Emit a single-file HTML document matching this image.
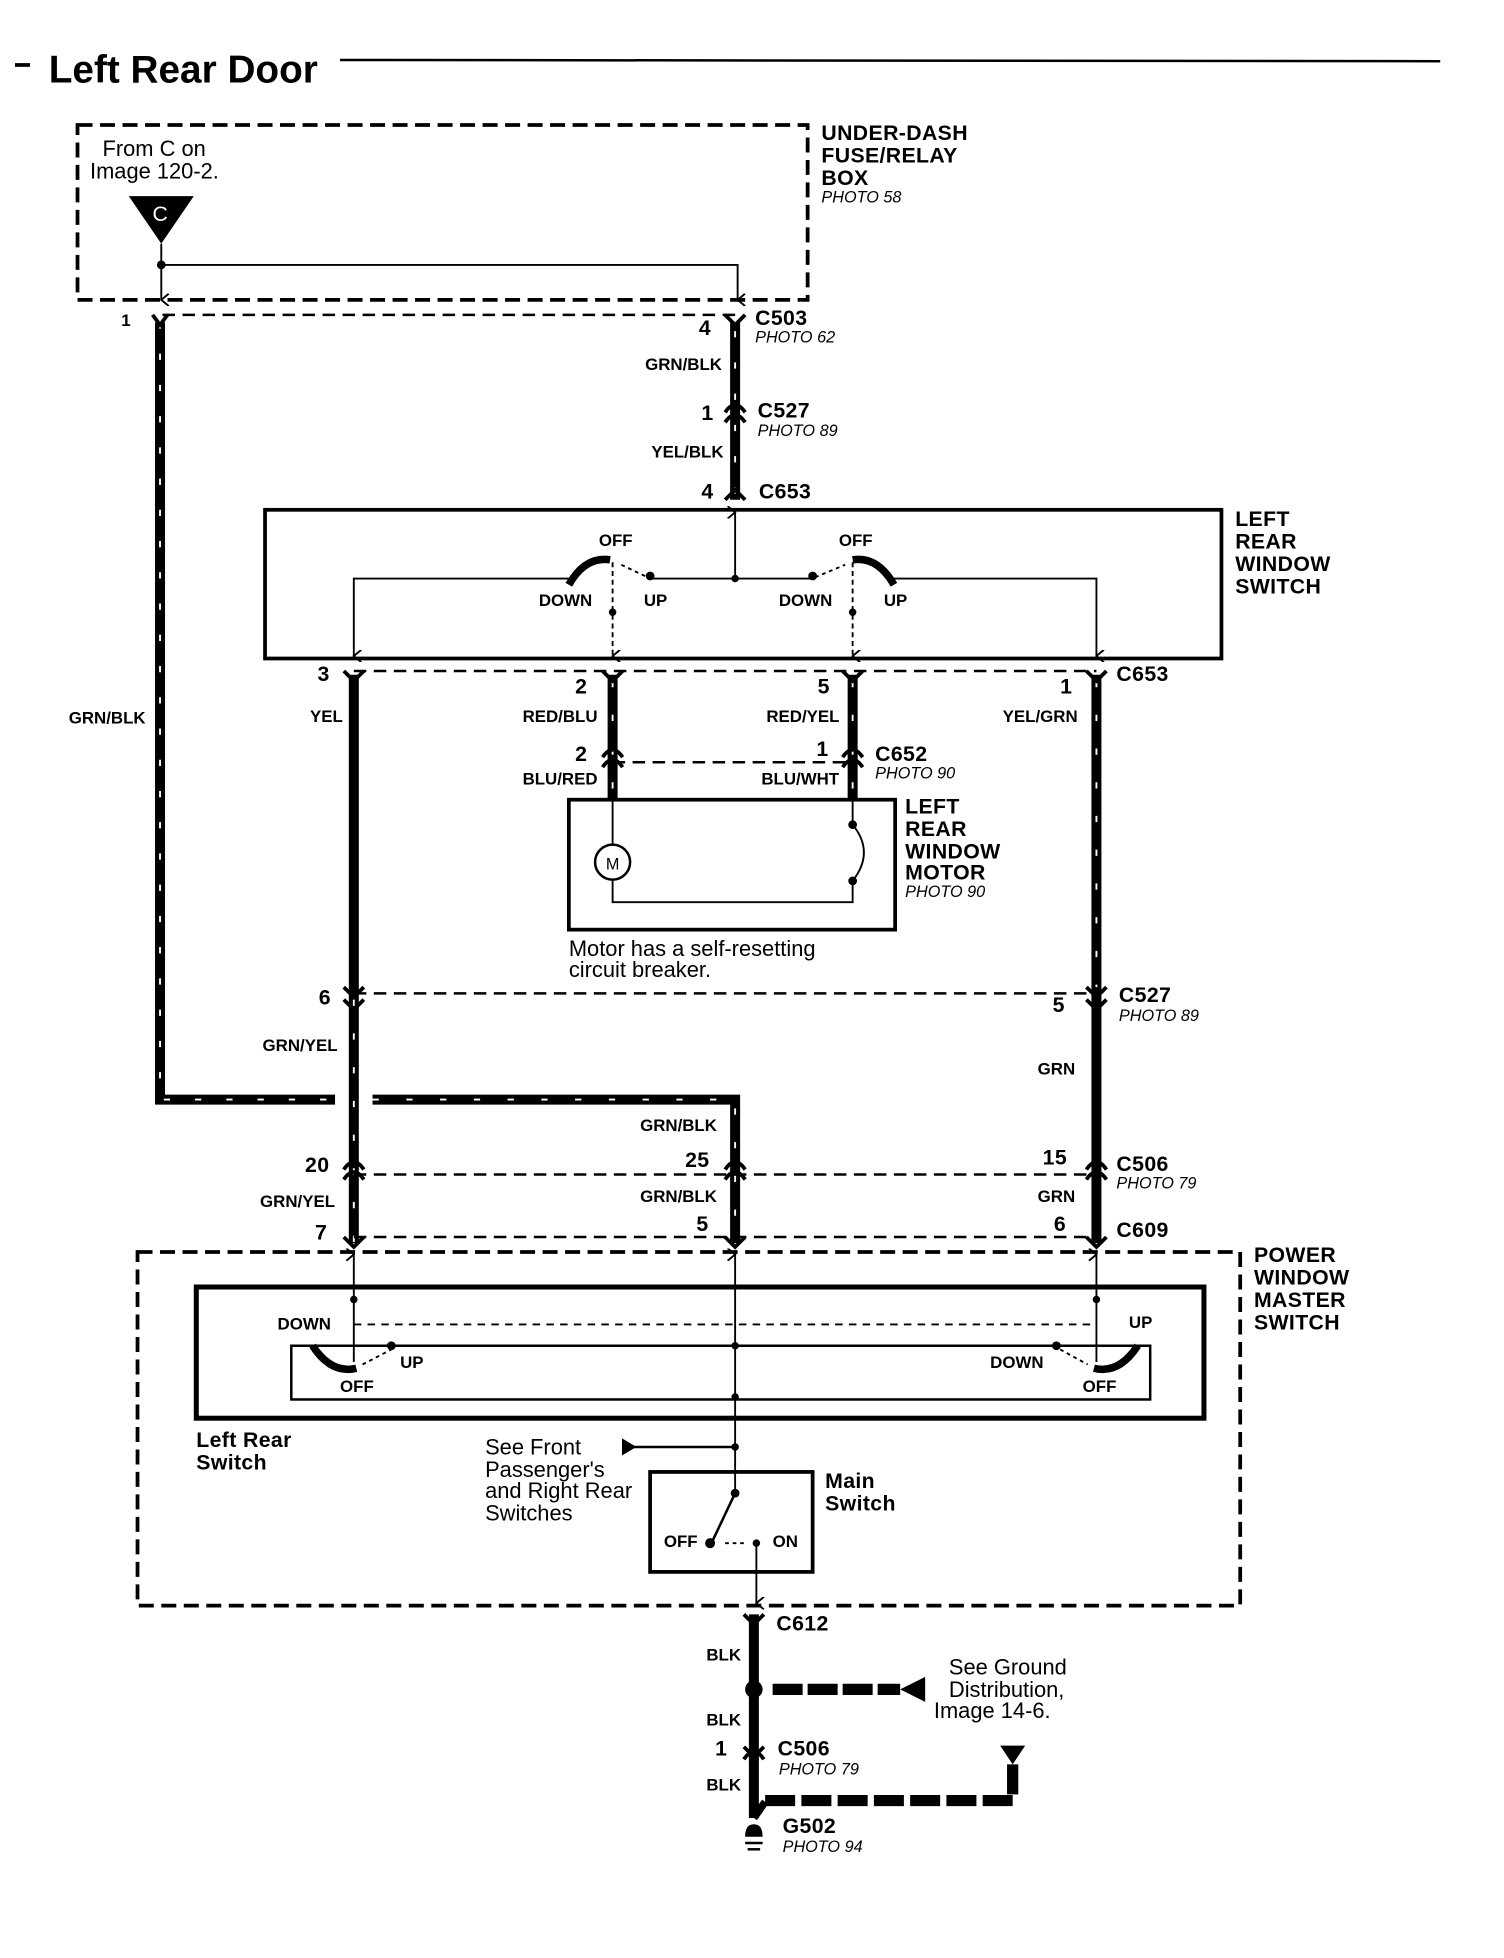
<!DOCTYPE html>
<html><head><meta charset="utf-8"><style>
html,body{margin:0;padding:0;background:#fff}
svg{display:block}
text{font-family:"Liberation Sans Narrow","Liberation Sans",sans-serif;fill:#000}
.b{font-weight:bold}
.s{font-size:13.5px;font-weight:bold}
.m{font-size:17px;font-weight:bold;letter-spacing:0.3px}
.i{font-size:13px;font-style:italic}
.n{font-size:17.5px}
</style></head><body>
<svg width="1504" height="1958" viewBox="0 0 1203 1567" preserveAspectRatio="none" xmlns="http://www.w3.org/2000/svg">
<defs>
<marker id="a" markerWidth="10" markerHeight="10" refX="5" refY="9" orient="auto-start-reverse" markerUnits="userSpaceOnUse">
<path d="M0,3 L5,9 L10,3" fill="none" stroke="#000" stroke-width="1.5"/></marker>
</defs>
<g fill="none" stroke="#000">
<line x1="12" y1="52" x2="24" y2="52" stroke-width="3"/>
<line x1="272" y1="48" x2="1152" y2="49" stroke-width="2"/>
<rect x="62" y="100" width="584" height="140" stroke-width="3" stroke-dasharray="12 6"/>
<polyline points="129,212 590,212 590,240" stroke-width="1.5" marker-end="url(#a)"/>
<line x1="129" y1="195" x2="129" y2="240" stroke-width="1.5" marker-end="url(#a)"/>
<line x1="130" y1="252" x2="588" y2="252" stroke-width="2" stroke-dasharray="10 6"/>
<polyline points="128,258 128,880 268,880" stroke-width="8"/>
<polyline points="128,258 128,880 268,880" stroke="#fff" stroke-width="1.5" stroke-dasharray="5 20"/>
<line x1="588" y1="258" x2="588" y2="400" stroke-width="8"/>
<line x1="588" y1="265" x2="588" y2="400" stroke="#fff" stroke-width="1.5" stroke-dasharray="5 20"/>
<path d="M580,252 L588,260 L596,252 M580,330 Q588,318 596,330 M580,338 Q588,326 596,338 M580,400 L588,392 L596,400" stroke-width="3"/>
<path d="M122,252 L128,260 L134,252" stroke-width="3"/>
<rect x="212" y="408" width="765" height="119" stroke-width="3"/>
<line x1="588" y1="463" x2="588" y2="410" stroke-width="1.5" marker-end="url(#a)"/>
<polyline points="455,463 283,463 283,525" stroke-width="1.5" marker-end="url(#a)"/>
<polyline points="715,463 877,463 877,525" stroke-width="1.5" marker-end="url(#a)"/>
<line x1="520" y1="463" x2="650" y2="463" stroke-width="1.5"/>
<path d="M455,468 Q468,445 488,448" stroke-width="6"/>
<path d="M715,468 Q702,445 682,448" stroke-width="6"/>
<line x1="490" y1="450" x2="490" y2="525" stroke-width="1.5" stroke-dasharray="4 3" marker-end="url(#a)"/>
<line x1="682" y1="450" x2="682" y2="525" stroke-width="1.5" stroke-dasharray="4 3" marker-end="url(#a)"/>
<line x1="497" y1="452" x2="518" y2="462" stroke-width="1.5" stroke-dasharray="3 3"/>
<line x1="652" y1="462" x2="676" y2="452" stroke-width="1.5" stroke-dasharray="3 3"/>
<line x1="283" y1="537" x2="877" y2="537" stroke-width="2" stroke-dasharray="10 6"/>
<line x1="283" y1="540" x2="283" y2="995" stroke-width="8"/>
<line x1="283" y1="800" x2="283" y2="995" stroke="#fff" stroke-width="1.5" stroke-dasharray="5 22"/>
<line x1="877" y1="540" x2="877" y2="995" stroke-width="8"/>
<line x1="877" y1="545" x2="877" y2="790" stroke="#fff" stroke-width="1.5" stroke-dasharray="5 22"/>
<line x1="490" y1="540" x2="490" y2="640" stroke-width="8"/>
<line x1="490" y1="545" x2="490" y2="640" stroke="#fff" stroke-width="1.5" stroke-dasharray="5 22"/>
<line x1="682" y1="540" x2="682" y2="640" stroke-width="8"/>
<line x1="682" y1="545" x2="682" y2="640" stroke="#fff" stroke-width="1.5" stroke-dasharray="5 22"/>
<path d="M275,537 L283,545 L291,537 M482,537 L490,545 L498,537 M674,537 L682,545 L690,537 M869,537 L877,545 L885,537" stroke-width="3"/>
<line x1="490" y1="610" x2="682" y2="610" stroke-width="2" stroke-dasharray="10 6"/>
<path d="M482,606 Q490,594 498,606 M482,614 Q490,602 498,614 M674,606 Q682,594 690,606 M674,614 Q682,602 690,614" stroke-width="3"/>
<rect x="455" y="640" width="261" height="104" stroke-width="3"/>
<polyline points="490,640 490,676" stroke-width="1.5"/>
<circle cx="490" cy="690" r="14" stroke-width="2"/>
<polyline points="490,704 490,722 682,722 682,705" stroke-width="1.5"/>
<line x1="682" y1="640" x2="682" y2="660" stroke-width="1.5"/>
<path d="M682,660 Q700,682 682,705" stroke-width="1.5"/>
<line x1="283" y1="795" x2="877" y2="795" stroke-width="2" stroke-dasharray="10 6"/>
<path d="M275,790 L283,798 L291,790 M275,800 L283,808 L291,800 M869,790 L877,798 L885,790 M869,800 L877,808 L885,800" stroke-width="3"/>
<polyline points="298,880 588,880 588,995" stroke-width="8"/>
<polyline points="298,880 588,880 588,995" stroke="#fff" stroke-width="1.5" stroke-dasharray="5 22"/>
<line x1="283" y1="940" x2="877" y2="940" stroke-width="2" stroke-dasharray="10 6"/>
<path d="M275,936 Q283,924 291,936 M275,944 Q283,932 291,944 M580,936 Q588,924 596,936 M580,944 Q588,932 596,944 M869,936 Q877,924 885,936 M869,944 Q877,932 885,944" stroke-width="3"/>
<line x1="283" y1="990" x2="877" y2="990" stroke-width="2" stroke-dasharray="10 6"/>
<path d="M275,990 L283,998 L291,990 M580,990 L588,998 L596,990 M869,990 L877,998 L885,990" stroke-width="3"/>
<rect x="110" y="1002" width="882" height="283" stroke-width="3" stroke-dasharray="12 6"/>
<rect x="157" y="1030" width="806" height="105" stroke-width="4"/>
<rect x="233" y="1077" width="687" height="43" stroke-width="2"/>
<line x1="283" y1="1090" x2="283" y2="1004" stroke-width="1.5" marker-end="url(#a)"/>
<line x1="877" y1="1090" x2="877" y2="1004" stroke-width="1.5" marker-end="url(#a)"/>
<line x1="588" y1="1160" x2="588" y2="1004" stroke-width="1.5" marker-end="url(#a)"/>
<line x1="283" y1="1060" x2="877" y2="1060" stroke-width="1.5" stroke-dasharray="6 5"/>
<line x1="315" y1="1077" x2="845" y2="1077" stroke-width="2"/>
<path d="M250,1077 Q265,1100 285,1095" stroke-width="6"/>
<path d="M910,1077 Q895,1100 875,1095" stroke-width="6"/>
<line x1="290" y1="1092" x2="313" y2="1080" stroke-width="1.5" stroke-dasharray="3 3"/>
<line x1="848" y1="1080" x2="870" y2="1092" stroke-width="1.5" stroke-dasharray="3 3"/>
<line x1="500" y1="1158" x2="588" y2="1158" stroke-width="2"/>
<path d="M498,1152 L508,1158 L498,1164 Z" fill="#000"/>
<rect x="520" y="1178" width="130" height="80" stroke-width="3"/>
<line x1="588" y1="1160" x2="588" y2="1195" stroke-width="1.5"/>
<line x1="588" y1="1195" x2="570" y2="1233" stroke-width="2"/>
<line x1="580" y1="1235" x2="595" y2="1235" stroke-width="1.5" stroke-dasharray="3 3"/>
<line x1="605" y1="1235" x2="605" y2="1283" stroke-width="1.5" marker-end="url(#a)"/>
<line x1="603" y1="1292" x2="603" y2="1455" stroke-width="8"/>
<path d="M595,1292 L603,1300 L611,1292 M595,1398 L603,1406 L611,1398 M595,1408 Q603,1396 611,1408" stroke-width="3"/>
<line x1="618" y1="1352" x2="720" y2="1352" stroke-width="9" stroke-dasharray="24 4"/>
<line x1="603" y1="1455" x2="612" y2="1442" stroke-width="6"/>
<polyline points="612,1441 810,1441 810,1412" stroke-width="9" stroke-dasharray="24 5"/>
<line x1="596" y1="1475" x2="610" y2="1475" stroke-width="2"/>
<line x1="598" y1="1480" x2="608" y2="1480" stroke-width="2"/>
</g>
<g fill="#000">
<path d="M103,157 L155,157 L129,195 Z"/>
<circle cx="129" cy="212" r="3.5"/>
<circle cx="588" cy="463" r="3"/><circle cx="520" cy="461" r="3.5"/><circle cx="650" cy="461" r="3.5"/>
<circle cx="490" cy="490" r="3"/><circle cx="682" cy="490" r="3"/>
<circle cx="682" cy="660" r="3.5"/><circle cx="682" cy="705" r="3.5"/>
<circle cx="283" cy="1040" r="3"/><circle cx="877" cy="1040" r="3"/>
<circle cx="588" cy="1077" r="3"/><circle cx="588" cy="1118" r="3"/><circle cx="588" cy="1158" r="3"/>
<circle cx="313" cy="1077" r="3.5"/><circle cx="845" cy="1077" r="3.5"/>
<circle cx="588" cy="1195" r="3.5"/><circle cx="568" cy="1235" r="4"/><circle cx="605" cy="1235" r="3"/>
<circle cx="603" cy="1352" r="7"/>
<path d="M740,1342 L720,1352 L740,1362 Z"/>
<path d="M800,1397 L820,1397 L810,1412 Z"/>
<path d="M596,1470 Q596,1460 603,1460 Q610,1460 610,1470 Z"/>
</g>
<text x="490" y="696" font-size="13" text-anchor="middle">M</text>
<text x="122" y="177" font-size="17" style="fill:#fff">C</text>
<text x="39" y="66" font-size="31" class="b">Left Rear Door</text>
<text x="82" y="125" class="n">From C on</text>
<text x="72" y="143" class="n">Image 120-2.</text>
<text x="657" y="112" class="m">UNDER-DASH</text>
<text x="657" y="130" class="m">FUSE/RELAY</text>
<text x="657" y="148" class="m">BOX</text>
<text x="657" y="162" class="i">PHOTO 58</text>
<text x="97" y="261" class="s">1</text>
<text x="559" y="268" class="m">4</text>
<text x="604" y="260" class="m">C503</text>
<text x="604" y="274" class="i">PHOTO 62</text>
<text x="516" y="296" class="s">GRN/BLK</text>
<text x="561" y="336" class="m">1</text>
<text x="606" y="334" class="m">C527</text>
<text x="606" y="349" class="i">PHOTO 89</text>
<text x="521" y="366" class="s">YEL/BLK</text>
<text x="561" y="399" class="m">4</text>
<text x="607" y="399" class="m">C653</text>
<text x="988" y="421" class="m">LEFT</text>
<text x="988" y="439" class="m">REAR</text>
<text x="988" y="457" class="m">WINDOW</text>
<text x="988" y="475" class="m">SWITCH</text>
<text x="479" y="437" class="s">OFF</text>
<text x="671" y="437" class="s">OFF</text>
<text x="431" y="485" class="s">DOWN</text>
<text x="515" y="485" class="s">UP</text>
<text x="623" y="485" class="s">DOWN</text>
<text x="707" y="485" class="s">UP</text>
<text x="55" y="579" class="s">GRN/BLK</text>
<text x="254" y="545" class="m">3</text>
<text x="460" y="555" class="m">2</text>
<text x="654" y="555" class="m">5</text>
<text x="848" y="555" class="m">1</text>
<text x="893" y="545" class="m">C653</text>
<text x="248" y="578" class="s">YEL</text>
<text x="418" y="578" class="s">RED/BLU</text>
<text x="613" y="578" class="s">RED/YEL</text>
<text x="802" y="578" class="s">YEL/GRN</text>
<text x="460" y="609" class="m">2</text>
<text x="653" y="605" class="m">1</text>
<text x="700" y="609" class="m">C652</text>
<text x="700" y="623" class="i">PHOTO 90</text>
<text x="418" y="628" class="s">BLU/RED</text>
<text x="609" y="628" class="s">BLU/WHT</text>
<text x="724" y="651" class="m">LEFT</text>
<text x="724" y="669" class="m">REAR</text>
<text x="724" y="687" class="m">WINDOW</text>
<text x="724" y="704" class="m">MOTOR</text>
<text x="724" y="718" class="i">PHOTO 90</text>
<text x="455" y="765" class="n">Motor has a self-resetting</text>
<text x="455" y="782" class="n">circuit breaker.</text>
<text x="255" y="804" class="m">6</text>
<text x="842" y="810" class="m">5</text>
<text x="895" y="802" class="m">C527</text>
<text x="895" y="817" class="i">PHOTO 89</text>
<text x="210" y="841" class="s">GRN/YEL</text>
<text x="830" y="860" class="s">GRN</text>
<text x="512" y="905" class="s">GRN/BLK</text>
<text x="244" y="938" class="m">20</text>
<text x="548" y="934" class="m">25</text>
<text x="834" y="932" class="m">15</text>
<text x="893" y="937" class="m">C506</text>
<text x="893" y="951" class="i">PHOTO 79</text>
<text x="208" y="966" class="s">GRN/YEL</text>
<text x="512" y="962" class="s">GRN/BLK</text>
<text x="830" y="962" class="s">GRN</text>
<text x="252" y="992" class="m">7</text>
<text x="557" y="985" class="m">5</text>
<text x="843" y="985" class="m">6</text>
<text x="893" y="990" class="m">C609</text>
<text x="1003" y="1010" class="m">POWER</text>
<text x="1003" y="1028" class="m">WINDOW</text>
<text x="1003" y="1046" class="m">MASTER</text>
<text x="1003" y="1064" class="m">SWITCH</text>
<text x="222" y="1064" class="s">DOWN</text>
<text x="320" y="1095" class="s">UP</text>
<text x="272" y="1114" class="s">OFF</text>
<text x="903" y="1063" class="s">UP</text>
<text x="792" y="1095" class="s">DOWN</text>
<text x="866" y="1114" class="s">OFF</text>
<text x="157" y="1158" class="m">Left Rear</text>
<text x="157" y="1176" class="m">Switch</text>
<text x="388" y="1164" class="n">See Front</text>
<text x="388" y="1182" class="n">Passenger's</text>
<text x="388" y="1199" class="n">and Right Rear</text>
<text x="388" y="1217" class="n">Switches</text>
<text x="660" y="1191" class="m">Main</text>
<text x="660" y="1209" class="m">Switch</text>
<text x="531" y="1238" class="s">OFF</text>
<text x="618" y="1238" class="s">ON</text>
<text x="621" y="1305" class="m">C612</text>
<text x="565" y="1329" class="s">BLK</text>
<text x="759" y="1340" class="n">See Ground</text>
<text x="759" y="1358" class="n">Distribution,</text>
<text x="747" y="1375" class="n">Image 14-6.</text>
<text x="565" y="1381" class="s">BLK</text>
<text x="572" y="1405" class="m">1</text>
<text x="622" y="1405" class="m">C506</text>
<text x="623" y="1420" class="i">PHOTO 79</text>
<text x="565" y="1433" class="s">BLK</text>
<text x="626" y="1467" class="m">G502</text>
<text x="626" y="1482" class="i">PHOTO 94</text>
</svg>
</body></html>
